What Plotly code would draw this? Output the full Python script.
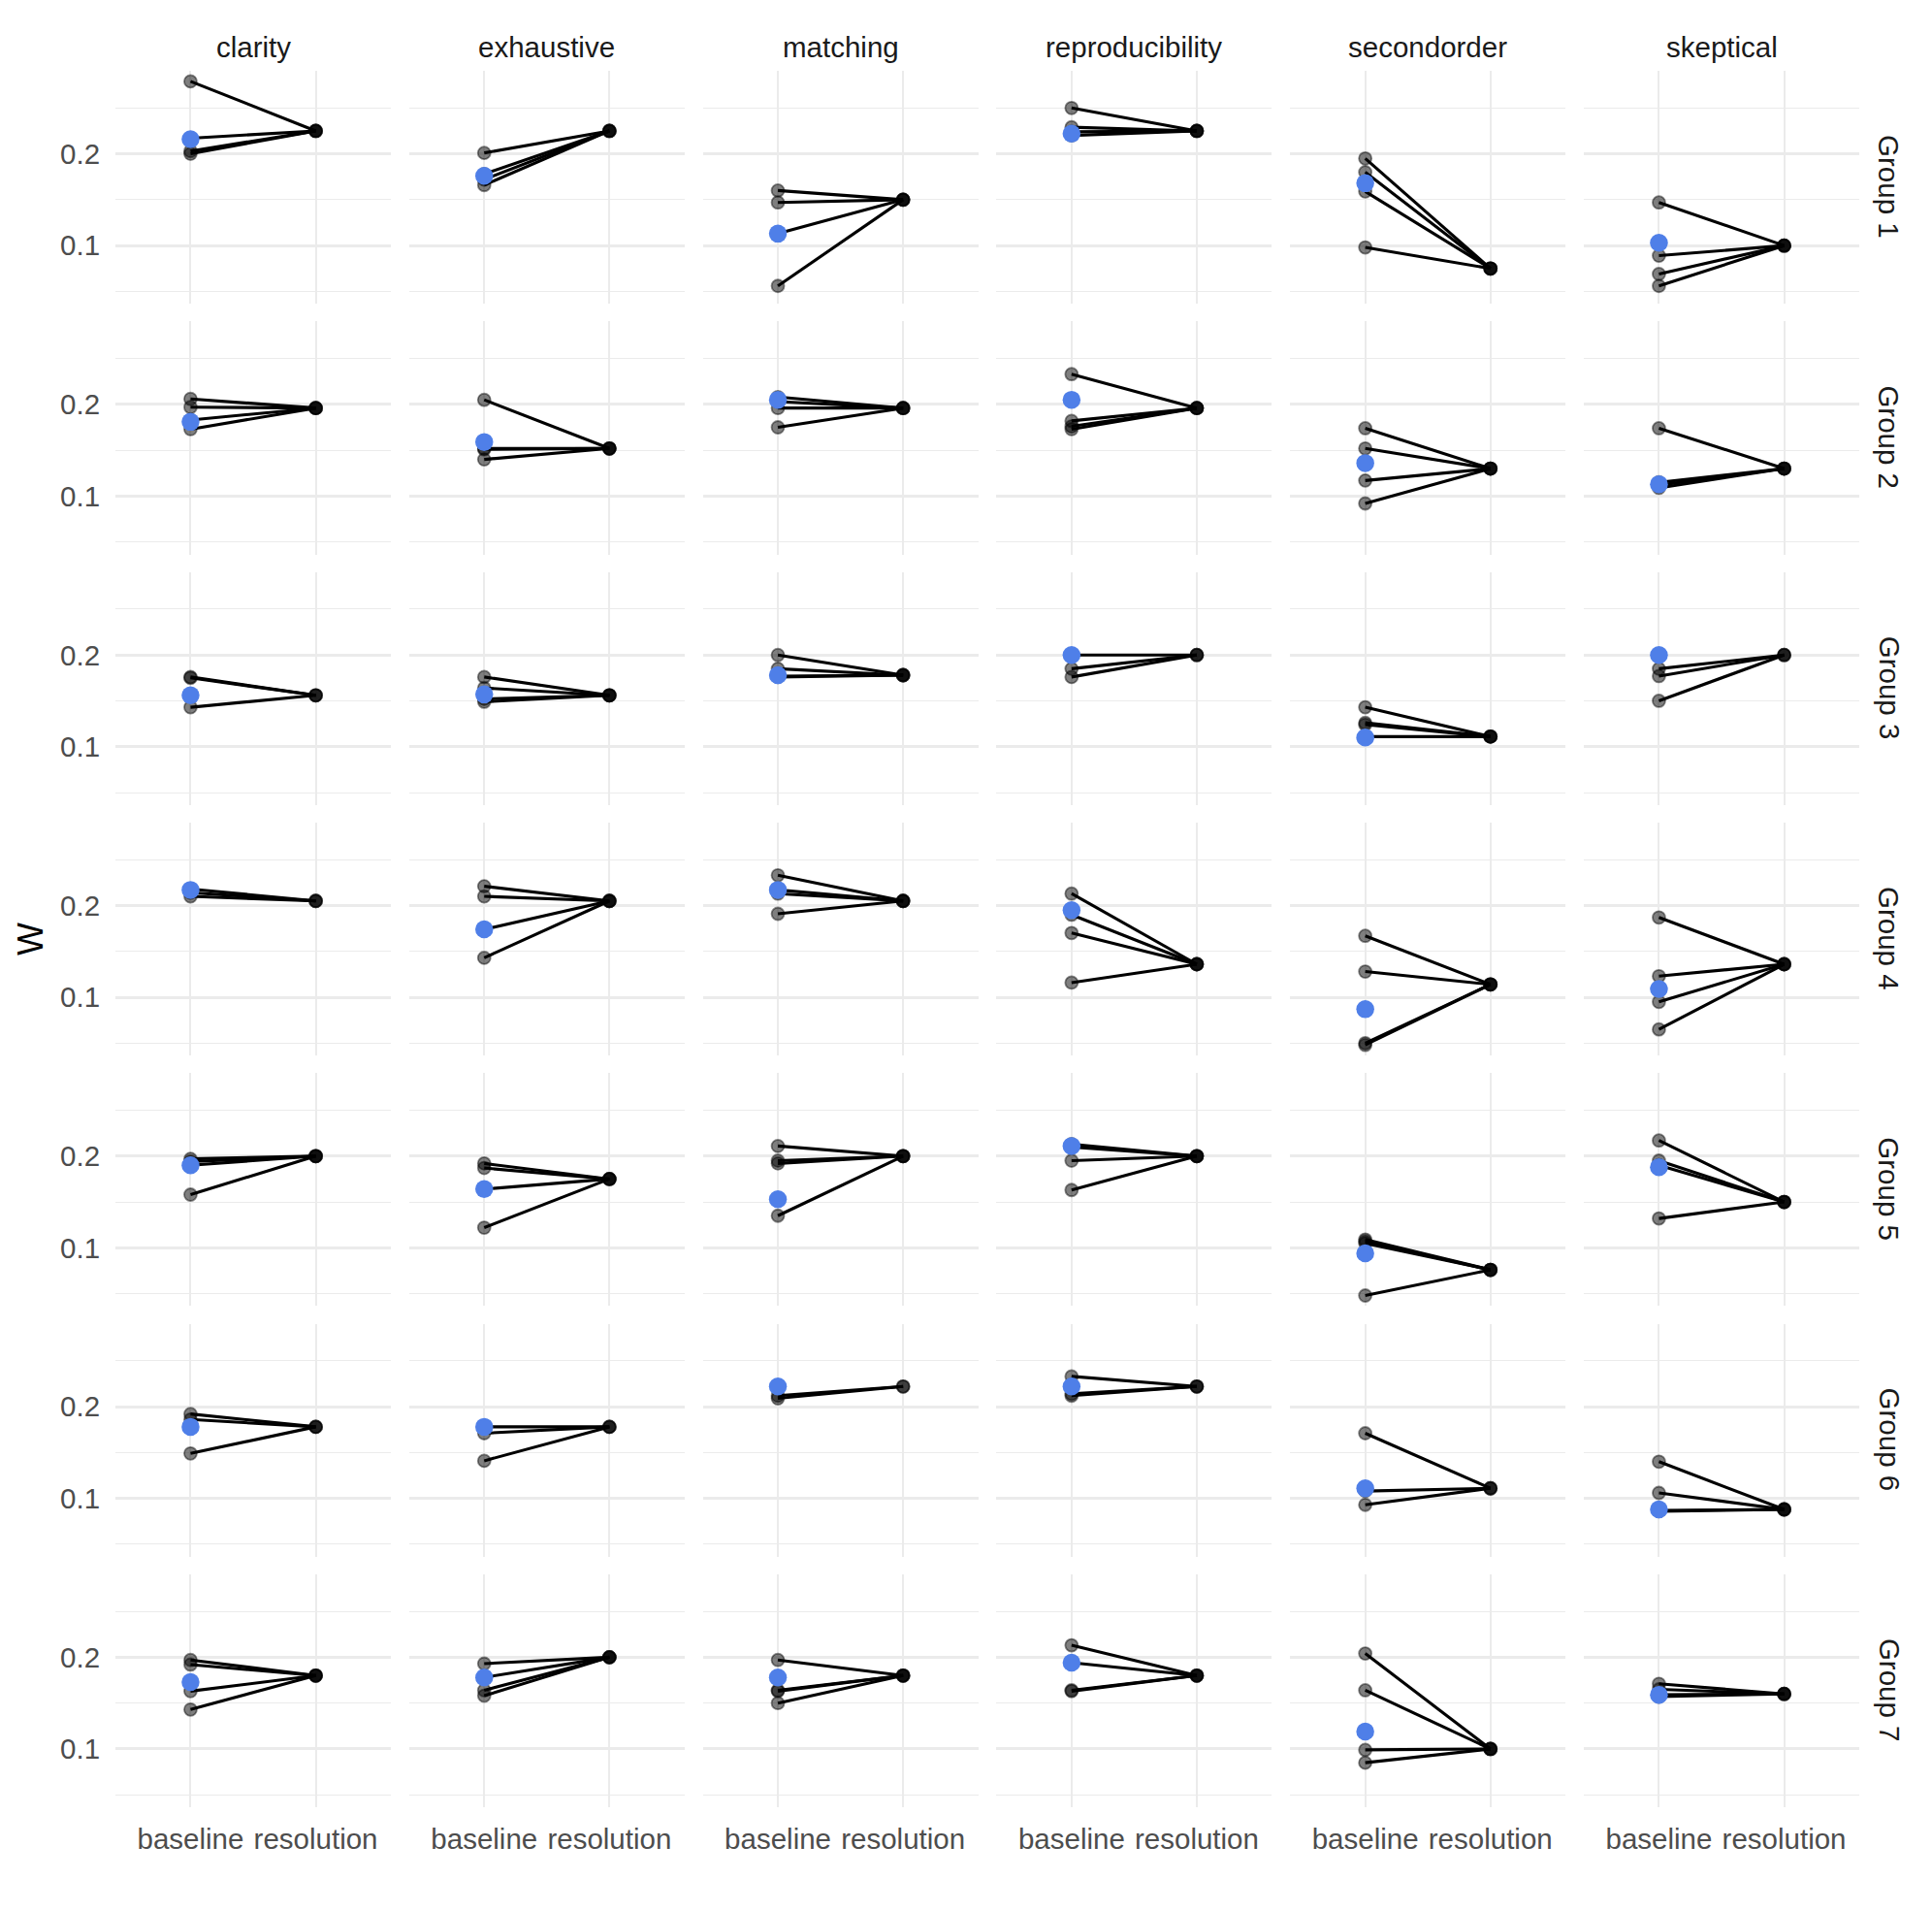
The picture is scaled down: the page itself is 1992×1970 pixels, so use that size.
import plotly.graph_objects as go
from plotly.subplots import make_subplots

metrics = ["clarity", "exhaustive", "matching", "reproducibility", "secondorder", "skeptical"]
groups = ["Group 1", "Group 2", "Group 3", "Group 4", "Group 5", "Group 6", "Group 7"]
conditions = ["baseline", "resolution"]
y_tick_values = [0.1, 0.2]
y_tick_labels = ["0.1", "0.2"]
y_minor_values = [0.05, 0.15, 0.25]

# baseline values (grey points, each joined to the resolution value), per metric
baseline_g1 = [[0.279, 0.217, 0.203, 0.200], [0.201, 0.178, 0.172, 0.166], [0.160, 0.147, 0.113, 0.056],
               [0.250, 0.229, 0.224, 0.220], [0.195, 0.180, 0.159, 0.098], [0.147, 0.089, 0.069, 0.056]]
baseline_g2 = [[0.206, 0.197, 0.183, 0.173], [0.205, 0.152, 0.151, 0.140], [0.208, 0.203, 0.196, 0.175],
               [0.233, 0.182, 0.176, 0.173], [0.174, 0.152, 0.117, 0.092], [0.174, 0.115, 0.112, 0.109]]
baseline_g3 = [[0.176, 0.175, 0.143], [0.176, 0.164, 0.152, 0.149], [0.200, 0.185, 0.177, 0.176],
               [0.200, 0.185, 0.176], [0.143, 0.126, 0.124, 0.111], [0.185, 0.177, 0.150]]
baseline_g4 = [[0.218, 0.214, 0.210], [0.221, 0.210, 0.174, 0.143], [0.233, 0.217, 0.213, 0.191],
               [0.213, 0.190, 0.170, 0.116], [0.167, 0.128, 0.050, 0.048], [0.187, 0.123, 0.095, 0.065]]
baseline_g5 = [[0.197, 0.194, 0.190, 0.158], [0.192, 0.187, 0.164, 0.122], [0.211, 0.195, 0.192, 0.135],
               [0.213, 0.210, 0.195, 0.163], [0.109, 0.107, 0.105, 0.048], [0.217, 0.195, 0.190, 0.132]]
baseline_g6 = [[0.192, 0.186, 0.149], [0.178, 0.171, 0.141], [0.212, 0.209],
               [0.233, 0.214, 0.212], [0.171, 0.108, 0.093], [0.140, 0.106, 0.087, 0.086]]
baseline_g7 = [[0.197, 0.192, 0.163, 0.143], [0.193, 0.178, 0.164, 0.158], [0.197, 0.164, 0.163, 0.150],
               [0.213, 0.194, 0.164, 0.163], [0.204, 0.164, 0.099, 0.085], [0.171, 0.165, 0.159, 0.157]]
baseline_values = [baseline_g1, baseline_g2, baseline_g3, baseline_g4, baseline_g5, baseline_g6, baseline_g7]

# highlighted (blue) baseline value per group x metric
highlight_values = [
    [0.216, 0.176, 0.113, 0.222, 0.168, 0.103],
    [0.181, 0.159, 0.205, 0.205, 0.136, 0.113],
    [0.156, 0.157, 0.178, 0.200, 0.110, 0.200],
    [0.217, 0.174, 0.217, 0.195, 0.087, 0.109],
    [0.190, 0.164, 0.153, 0.211, 0.094, 0.188],
    [0.178, 0.178, 0.222, 0.222, 0.111, 0.088],
    [0.173, 0.178, 0.178, 0.194, 0.119, 0.159],
]

# resolution value per group x metric
resolution_values = [
    [0.225, 0.225, 0.150, 0.225, 0.075, 0.100],
    [0.196, 0.152, 0.196, 0.196, 0.130, 0.130],
    [0.156, 0.156, 0.178, 0.200, 0.111, 0.200],
    [0.205, 0.205, 0.205, 0.136, 0.114, 0.136],
    [0.200, 0.175, 0.200, 0.200, 0.076, 0.150],
    [0.178, 0.178, 0.222, 0.222, 0.111, 0.088],
    [0.180, 0.200, 0.180, 0.180, 0.100, 0.160],
]

# ---------------- layout geometry (pixels) ----------------
# the page body has an 8px margin, so the figure is sized to fit inside it
PAGE_PAD = 8
W, H = 1992 - 2 * PAGE_PAD, 1970 - 2 * PAGE_PAD
ML, MT = 119 - PAGE_PAD, 73 - PAGE_PAD
MR = W - (1917 - PAGE_PAD)
MB = H - (1863 - PAGE_PAD)
PW, PH = W - ML - MR, H - MT - MB
col_gap, row_gap = 18.8, 18.1

FONT = "Liberation Sans, Arial, Helvetica, sans-serif"
GRID = "#EBEBEB"
TXT = 29.5

fig = make_subplots(rows=len(groups), cols=len(metrics),
                    horizontal_spacing=col_gap / PW, vertical_spacing=row_gap / PH)

for gi in range(len(groups)):
    for mi in range(len(metrics)):
        pts = baseline_values[gi][mi]
        res = resolution_values[gi][mi]
        lx, ly = [], []
        for v in pts:
            lx += [conditions[0], conditions[1], None]
            ly += [v, res, None]
        fig.add_trace(go.Scatter(x=lx, y=ly, mode="lines", line=dict(color="black", width=3.1),
                                 hoverinfo="skip", showlegend=False), row=gi + 1, col=mi + 1)
        mx = [conditions[0]] * len(pts) + [conditions[1]] * len(pts)
        my = list(pts) + [res] * len(pts)
        fig.add_trace(go.Scatter(x=mx, y=my, mode="markers",
                                 marker=dict(size=13, color="rgba(0,0,0,0.5)",
                                             line=dict(color="rgba(0,0,0,0.45)", width=1.8)),
                                 showlegend=False), row=gi + 1, col=mi + 1)
        fig.add_trace(go.Scatter(x=[conditions[0]], y=[highlight_values[gi][mi]], mode="markers",
                                 marker=dict(size=18.5, color="#4f7fe8", line=dict(width=0)),
                                 showlegend=False), row=gi + 1, col=mi + 1)

fig.update_xaxes(type="category", categoryorder="array", categoryarray=conditions,
                 range=[-0.6, 1.6], showgrid=True, gridcolor=GRID, gridwidth=2,
                 zeroline=False, showline=False, showticklabels=False,
                 ticks="outside", ticklen=7, tickcolor="rgba(0,0,0,0)",
                 tickfont=dict(family=FONT, size=TXT, color="#4D4D4D"), fixedrange=True)
fig.update_xaxes(showticklabels=True, row=len(groups))

fig.update_yaxes(range=[0.0365, 0.2905], tickmode="array", tickvals=y_tick_values, ticktext=y_tick_labels,
                 showgrid=True, gridcolor=GRID, gridwidth=2.6, zeroline=False, showline=False,
                 showticklabels=False, ticks="outside", ticklen=9, tickcolor="rgba(0,0,0,0)",
                 tickfont=dict(family=FONT, size=TXT, color="#4D4D4D"),
                 minor=dict(tickmode="array", tickvals=y_minor_values, showgrid=True,
                            gridcolor=GRID, gridwidth=1.4, ticks=""),
                 fixedrange=True)
fig.update_yaxes(showticklabels=True, col=1)

annotations = []
col_w = (PW - 5 * col_gap) / 6
for mi, m in enumerate(metrics):
    cx = (mi * (col_w + col_gap) + col_w / 2) / PW
    annotations.append(dict(text=m, x=cx, y=1 + 25 / PH, xref="paper", yref="paper",
                            xanchor="center", yanchor="middle", showarrow=False,
                            font=dict(family=FONT, size=TXT, color="#1A1A1A")))
row_h = (PH - 6 * row_gap) / 7
for gi, g in enumerate(groups):
    cy = 1 - (gi * (row_h + row_gap) + row_h / 2) / PH
    annotations.append(dict(text=g, x=1 + 31 / PW, y=cy, xref="paper", yref="paper",
                            xanchor="center", yanchor="middle", showarrow=False, textangle=90,
                            font=dict(family=FONT, size=TXT, color="#1A1A1A")))
annotations.append(dict(text="W", x=-(ML - (31 - PAGE_PAD)) / PW, y=0.5, xref="paper", yref="paper",
                        xanchor="center", yanchor="middle", showarrow=False, textangle=-90,
                        font=dict(family=FONT, size=36, color="black")))

fig.update_layout(width=W, height=H, margin=dict(l=ML, r=MR, t=MT, b=MB, pad=0),
                  paper_bgcolor="white", plot_bgcolor="white", showlegend=False,
                  annotations=annotations, font=dict(family=FONT))

fig.write_html("out.html")
